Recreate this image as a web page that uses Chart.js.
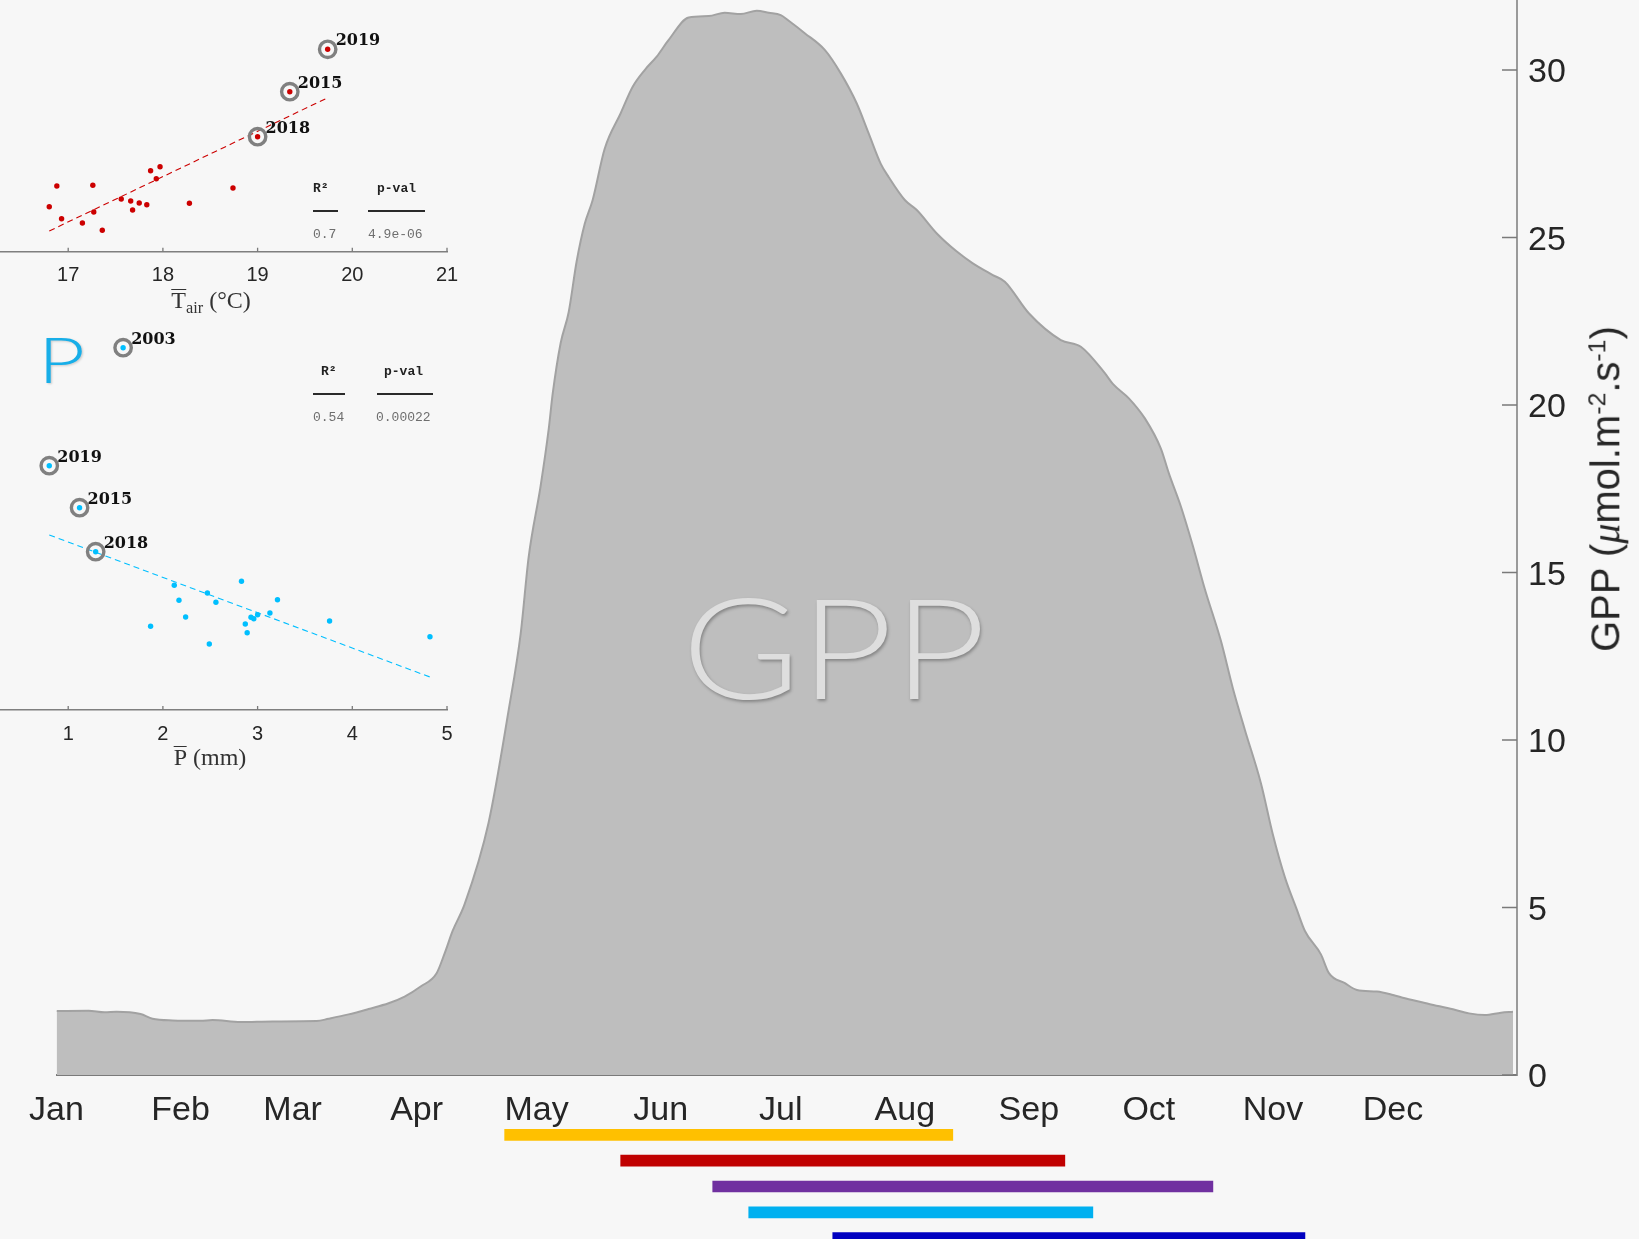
<!DOCTYPE html>
<html>
<head>
<meta charset="utf-8">
<script src="https://cdn.jsdelivr.net/npm/chart.js@4.4.1/dist/chart.umd.min.js"></script>
<style>
  html, body { margin: 0; padding: 0; background: #f7f7f7; overflow: hidden; width: 1639px; height: 1239px; }
  #wrap { position: relative; width: 1639px; height: 1239px; overflow: hidden; }
  canvas { position: absolute; }
  .txt { position: absolute; white-space: nowrap; line-height: 1; }
  .mono { font-family: "Liberation Mono", "DejaVu Sans Mono", monospace; font-size: 13px; }
  .hdr { font-weight: bold; color: #222; }
  .val { color: #6e6e6e; }
  .rule { position: absolute; height: 2px; background: #2a2a2a; }
  .serif { font-family: "Liberation Serif", "DejaVu Serif", serif; font-size: 24px; color: #333; }
  .serif sub { font-size: 0.68em; vertical-align: -0.28em; line-height: 0; }
  .bar { display: inline-block; border-top: 1.5px solid #333; line-height: 0.72em; padding-top: 2px; }
</style>
</head>
<body>
<div id="wrap">
  <canvas id="gppChart" width="1639" height="1239" style="left:0;top:0"></canvas>
  <canvas id="periodChart" width="1639" height="129" style="left:0;top:1122px"></canvas>

  <div class="txt" id="gppMark" style="left:834px;top:575px;transform:translateX(-50%) scaleX(1.15);font-family:Lato,'Open Sans',sans-serif;font-weight:300;font-size:140px;color:#dedede;text-shadow:1px 2px 3px rgba(0,0,0,0.30);">GPP</div>

  <canvas id="tairInset" width="530" height="300" style="left:-27px;top:0"></canvas>
  <canvas id="precInset" width="530" height="480" style="left:-27px;top:290px"></canvas>

  <div class="txt" style="left:38px;top:327px;transform:scaleX(1.27);transform-origin:left center;font-family:Lato,'Open Sans',sans-serif;font-weight:300;font-size:64px;color:#17aee8;text-shadow:1px 1px 2px rgba(0,0,0,0.18);">P</div>

  <div class="txt serif" style="left:211px;top:288px;transform:translateX(-50%);"><span class="bar">T</span><sub>air</sub> (°C)</div>
  <div class="txt serif" style="left:210px;top:745px;transform:translateX(-50%);"><span class="bar">P</span> (mm)</div>

  <div class="txt mono hdr" style="left:313px;top:182px;">R²</div>
  <div class="txt mono hdr" style="left:377px;top:182px;">p-val</div>
  <div class="rule" style="left:313px;top:210px;width:25px;"></div>
  <div class="rule" style="left:368px;top:210px;width:57px;"></div>
  <div class="txt mono val" style="left:313px;top:228px;">0.7</div>
  <div class="txt mono val" style="left:368px;top:228px;">4.9e-06</div>

  <div class="txt mono hdr" style="left:321px;top:365px;">R²</div>
  <div class="txt mono hdr" style="left:384px;top:365px;">p-val</div>
  <div class="rule" style="left:313px;top:393px;width:32px;"></div>
  <div class="rule" style="left:377px;top:393px;width:56px;"></div>
  <div class="txt mono val" style="left:313px;top:411px;">0.54</div>
  <div class="txt mono val" style="left:376px;top:411px;">0.00022</div>

  <div class="txt" style="left:1606px;top:489px;transform:translate(-50%,-50%) rotate(-90deg);font-family:'Liberation Sans',Arial,sans-serif;font-size:40px;color:#262626;">GPP (<i style="font-family:'Liberation Serif',serif;">μ</i>mol.m<sup style="font-size:0.62em;">-2</sup>.s<sup style="font-size:0.62em;">-1</sup>)</div>
</div>

<script>
// Mean daily GPP over the year (day of year, µmol m-2 s-1)
const GPP_DAY = [1, 9, 13, 16, 22, 25, 30, 37, 40, 47, 55, 66, 69, 74, 79, 84, 88, 92, 96, 98,
  100, 103, 109, 114, 117, 119, 122, 124, 125, 127, 129, 131, 133, 135, 138, 142, 145, 148, 151, 154,
  159, 164, 168, 172, 176, 179, 182, 184, 188, 193, 197, 201, 204, 207, 209, 213, 216, 221, 226, 230,
  235, 238, 244, 252, 257, 263, 265, 269, 273, 277, 279, 282, 285, 288, 292, 295, 298, 302, 305, 308,
  311, 313, 317, 319, 323, 326, 331, 335, 338, 344, 350, 354, 358, 362, 365];
const GPP_VALUE = [1.91, 1.92, 1.87, 1.89, 1.82, 1.68, 1.63, 1.62, 1.64, 1.58, 1.60, 1.61, 1.68, 1.81, 1.97, 2.14, 2.34, 2.64, 3.04, 3.63,
  4.30, 5.10, 7.54, 10.89, 13.17, 15.46, 17.59, 19.27, 20.33, 21.85, 22.77, 24.29, 25.40, 26.12, 27.65, 28.71, 29.50, 30.00, 30.40, 30.90,
  31.57, 31.61, 31.71, 31.67, 31.77, 31.71, 31.64, 31.47, 31.10, 30.60, 29.90, 29.00, 28.10, 27.20, 26.80, 26.12, 25.82, 25.12, 24.58, 24.23,
  23.88, 23.68, 22.74, 21.94, 21.74, 20.95, 20.63, 20.20, 19.60, 18.70, 17.96, 16.97, 15.79, 14.50, 12.96, 11.54, 10.30, 8.71, 7.17, 5.90,
  4.93, 4.30, 3.60, 3.04, 2.74, 2.54, 2.49, 2.39, 2.29, 2.12, 1.96, 1.84, 1.79, 1.86, 1.89];
const GPP_TICKS = [0, 5, 10, 15, 20, 25, 30];
const GPP_MAX = 32.09;

const MONTH_START_DAY = [1, 32, 60, 91, 121, 152, 182, 213, 244, 274, 305, 335];
const MONTH_LABELS = ['Jan', 'Feb', 'Mar', 'Apr', 'May', 'Jun', 'Jul', 'Aug', 'Sep', 'Oct', 'Nov', 'Dec'];

// Seasonal windows (start and end day of year)
const PERIOD_NAMES = ['window 1', 'window 2', 'window 3', 'window 4', 'window 5'];
const PERIOD_START = [113, 142, 165, 174, 195];
const PERIOD_END = [225, 253, 290, 260, 313];
const PERIOD_COLORS = ['#ffc000', '#c00000', '#7030a0', '#00b0f0', '#0000c0'];

// Yearly response against mean air temperature
const TAIR_X = [16.80, 16.88, 16.93, 17.15, 17.26, 17.27, 17.36, 17.56, 17.66, 17.68, 17.75, 17.83, 17.87, 17.93, 17.97, 18.28, 18.74];
const TAIR_Y = [8.83, 10.90, 7.63, 7.20, 10.97, 8.30, 6.47, 9.60, 9.40, 8.50, 9.20, 9.03, 12.43, 11.63, 12.83, 9.17, 10.70];
const TAIR_YEARS = ['2018', '2015', '2019'];
const TAIR_YEAR_X = [19.00, 19.34, 19.74];
const TAIR_YEAR_Y = [15.83, 20.33, 24.57];
const TAIR_FIT_X = [16.80, 19.75];
const TAIR_FIT_Y = [6.40, 19.77];
const TAIR_TICKS = [17, 18, 19, 20, 21];

// Yearly response against mean precipitation
const PREC_X = [1.87, 2.12, 2.17, 2.24, 2.47, 2.49, 2.56, 2.83, 2.87, 2.89, 2.93, 2.96, 3.00, 3.13, 3.21, 3.76, 4.82];
const PREC_Y = [8.37, 12.47, 10.97, 9.30, 11.70, 6.60, 10.77, 12.87, 8.60, 7.73, 9.27, 9.13, 9.53, 9.70, 11.03, 8.90, 7.33];
const PREC_YEARS = ['2003', '2019', '2015', '2018'];
const PREC_YEAR_X = [1.58, 0.80, 1.12, 1.29];
const PREC_YEAR_Y = [36.23, 24.43, 20.23, 15.83];
const PREC_FIT_X = [0.80, 4.82];
const PREC_FIT_Y = [17.50, 3.30];
const PREC_TICKS = [1, 2, 3, 4, 5];

const SANS = '"Liberation Sans", Arial, sans-serif';
const pts = (xs, ys) => xs.map((x, i) => ({ x: x, y: ys[i] }));
const noPad = s => { s.paddingLeft = 0; s.paddingRight = 0; s.paddingTop = 0; s.paddingBottom = 0; };

// Short tick marks drawn inward from an axis
const innerTicks = {
  id: 'innerTicks',
  afterDraw(chart, args, opts) {
    if (!opts || !opts.axis) return;
    const scale = chart.scales[opts.axis];
    const area = chart.chartArea;
    const ctx = chart.ctx;
    ctx.save();
    ctx.strokeStyle = opts.color;
    ctx.lineWidth = opts.width;
    ctx.beginPath();
    scale.ticks.forEach(t => {
      const p = scale.getPixelForValue(t.value);
      if (scale.isHorizontal()) {
        ctx.moveTo(p, area.bottom);
        ctx.lineTo(p, area.bottom - opts.length);
      } else {
        ctx.moveTo(area.right, p);
        ctx.lineTo(area.right - opts.length, p);
      }
    });
    ctx.stroke();
    ctx.restore();
  }
};

// Year names written next to the highlighted points
const yearLabels = {
  id: 'yearLabels',
  afterDatasetsDraw(chart, args, opts) {
    if (!opts || !opts.labels) return;
    const meta = chart.getDatasetMeta(opts.datasetIndex);
    const ctx = chart.ctx;
    ctx.save();
    ctx.font = 'bold 16px "DejaVu Serif", "Liberation Serif", serif';
    ctx.fillStyle = '#111';
    ctx.textAlign = 'left';
    ctx.textBaseline = 'middle';
    meta.data.forEach((el, i) => {
      ctx.fillText(opts.labels[i], el.x + 8, el.y - 8);
    });
    ctx.restore();
  }
};

// Main seasonal GPP curve
new Chart(document.getElementById('gppChart'), {
  type: 'line',
  data: {
    datasets: [{
      data: pts(GPP_DAY, GPP_VALUE),
      fill: 'origin',
      backgroundColor: '#bebebe',
      borderColor: '#a2a2a2',
      borderWidth: 2,
      pointRadius: 0,
      cubicInterpolationMode: 'monotone'
    }]
  },
  options: {
    responsive: false, animation: false, devicePixelRatio: 1,
    layout: { autoPadding: false, padding: { left: 56.5, top: 0, right: 0, bottom: 0 } },
    plugins: {
      legend: { display: false }, tooltip: { enabled: false },
      innerTicks: { axis: 'y', length: 15, color: '#7a7a7a', width: 1.5 }
    },
    scales: {
      x: {
        type: 'linear', min: 1, max: 366, z: 1,
        grid: { display: false, drawTicks: false },
        border: { color: '#7a7a7a', width: 2 },
        afterBuildTicks: s => { s.ticks = MONTH_START_DAY.map(v => ({ value: v })); },
        afterFit: s => { s.height = 164; noPad(s); },
        ticks: {
          autoSkip: false, maxRotation: 0, padding: 15, color: '#262626',
          font: { family: SANS, size: 34 },
          callback: (v, i) => MONTH_LABELS[i]
        }
      },
      y: {
        position: 'right', min: 0, max: GPP_MAX, z: 1,
        grid: { display: false, drawTicks: false },
        border: { color: '#9a9a9a', width: 2 },
        afterBuildTicks: s => { s.ticks = GPP_TICKS.map(v => ({ value: v })); },
        afterFit: s => { s.width = 122; noPad(s); },
        ticks: { padding: 11, labelOffset: 3, color: '#262626', font: { family: SANS, size: 34 } }
      }
    }
  },
  plugins: [innerTicks]
});

// Coloured seasonal windows under the month axis
new Chart(document.getElementById('periodChart'), {
  type: 'bar',
  data: {
    labels: PERIOD_NAMES,
    datasets: [{
      data: PERIOD_START.map((s, i) => [s, PERIOD_END[i]]),
      backgroundColor: PERIOD_COLORS,
      borderWidth: 0,
      barThickness: 11
    }]
  },
  options: {
    indexAxis: 'y', responsive: false, animation: false, devicePixelRatio: 1,
    layout: { autoPadding: false, padding: { left: 56.5, right: 122, top: 0, bottom: 0 } },
    plugins: { legend: { display: false }, tooltip: { enabled: false } },
    scales: {
      x: { type: 'linear', min: 1, max: 366, display: false },
      y: { display: false }
    }
  }
});

function inset(id, c) {
  return new Chart(document.getElementById(id), {
    type: 'scatter',
    data: {
      datasets: [
        {
          data: pts(c.x.concat(c.yearX), c.y.concat(c.yearY)),
          pointRadius: 2.7, pointBackgroundColor: c.color, pointBorderWidth: 0, order: 0
        },
        {
          data: pts(c.yearX, c.yearY),
          pointRadius: 8.2, pointBorderWidth: 3.4, pointBorderColor: '#808080',
          pointBackgroundColor: 'rgba(0,0,0,0)', order: 1
        },
        {
          data: pts(c.fitX, c.fitY),
          showLine: true, borderColor: c.color, borderWidth: 1.1, borderDash: [6, 4],
          pointRadius: 0, order: 2
        }
      ]
    },
    options: {
      responsive: false, animation: false, devicePixelRatio: 1,
      layout: { autoPadding: false, padding: { left: 0.5, right: 56, top: c.padTop, bottom: 0 } },
      plugins: {
        legend: { display: false }, tooltip: { enabled: false },
        innerTicks: { axis: 'x', length: 4, color: '#7a7a7a', width: 1.3 },
        yearLabels: { datasetIndex: 1, labels: c.years }
      },
      scales: {
        x: {
          type: 'linear', min: c.xMin, max: c.xMax,
          grid: { display: false, drawTicks: false },
          border: { color: '#7f7f7f', width: 1.5 },
          afterBuildTicks: s => { s.ticks = c.ticks.map(v => ({ value: v })); },
          afterFit: s => { s.height = c.axisHeight; noPad(s); },
          ticks: { autoSkip: false, maxRotation: 0, padding: 12, color: '#262626', font: { family: SANS, size: 20 } }
        },
        y: { display: false, min: c.yMin, max: c.yMax, afterFit: noPad }
      }
    },
    plugins: [innerTicks, yearLabels]
  });
}

inset('tairInset', {
  x: TAIR_X, y: TAIR_Y, yearX: TAIR_YEAR_X, yearY: TAIR_YEAR_Y, years: TAIR_YEARS,
  fitX: TAIR_FIT_X, fitY: TAIR_FIT_Y, ticks: TAIR_TICKS, color: '#cc0000',
  xMin: 16, xMax: 21, yMin: 4.33, yMax: 29.5, padTop: 0, axisHeight: 48.3
});

inset('precInset', {
  x: PREC_X, y: PREC_Y, yearX: PREC_YEAR_X, yearY: PREC_YEAR_Y, years: PREC_YEARS,
  fitX: PREC_FIT_X, fitY: PREC_FIT_Y, ticks: PREC_TICKS, color: '#00bfff',
  xMin: 0, xMax: 5, yMin: 0, yMax: 41, padTop: 10, axisHeight: 60
});
</script>
</body>
</html>
